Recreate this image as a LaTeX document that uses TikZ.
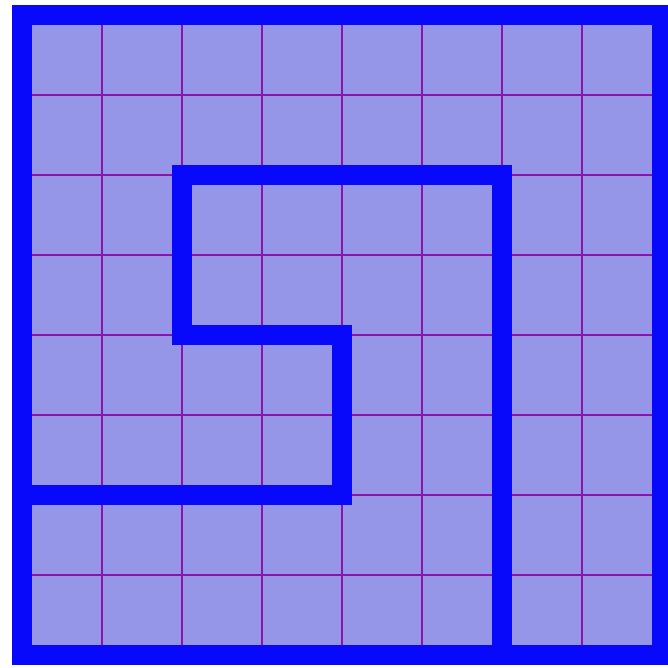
\documentclass[tikz,border=0pt]{standalone}
\definecolor{wallblue}{RGB}{8,8,250}
\definecolor{cellfill}{RGB}{150,150,232}
\definecolor{gridpurple}{RGB}{140,20,170}
\tikzset{
  wall/.style={draw=wallblue,line width=20pt,line cap=square,line join=miter},
  gridline/.style={draw=gridpurple,line width=1.6pt},
}
\begin{document}
\begin{tikzpicture}[x=1pt,y=-1pt]
\useasboundingbox (0,0) rectangle (668,667);
\fill[white] (0,0) rectangle (668,667);
\fill[cellfill] (22,15) rectangle (662,655);
\foreach \i in {1,...,7} {
  \draw[gridline] ({22+80*\i},15) -- ({22+80*\i},655);
  \draw[gridline] (22,{15+80*\i}) -- (662,{15+80*\i});
}
\draw[wall] (22,15) rectangle (662,655);
\draw[wall] (22,495) -- (342,495) -- (342,335) -- (182,335) -- (182,175) -- (502,175) -- (502,655);
\end{tikzpicture}
\end{document}
